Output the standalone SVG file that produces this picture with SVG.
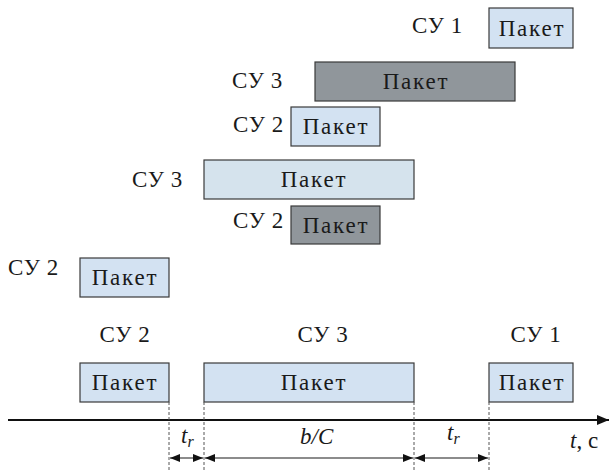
<svg xmlns="http://www.w3.org/2000/svg" width="609" height="474" viewBox="0 0 609 474">
<style>
text{font-family:"Liberation Serif",serif;font-size:23px;fill:#1a1a1a}
.pk{text-anchor:middle;letter-spacing:1.8px}
.su{letter-spacing:0.6px}
.light{fill:#d3e2f2;stroke:#3a3a3a;stroke-width:1.2}
.pale{fill:#d5e3ed;stroke:#3a3a3a;stroke-width:1.2}
.dark{fill:#90969b;stroke:#3a3a3a;stroke-width:1.2}
.dash{stroke:#555;stroke-width:1;stroke-dasharray:3,2;fill:none}
.dim{stroke:#666;stroke-width:1.5;fill:none;marker-start:url(#ah);marker-end:url(#ah)}
.it{font-style:italic}
</style>
<defs>
<marker id="ah" viewBox="0 0 10 8" refX="10" refY="4" markerWidth="10" markerHeight="8" markerUnits="userSpaceOnUse" orient="auto-start-reverse">
<path d="M0,0 L10,4 L0,8 z" fill="#111"/>
</marker>
<marker id="axh" viewBox="0 0 12 10" refX="12" refY="5" markerWidth="12" markerHeight="10" markerUnits="userSpaceOnUse" orient="auto">
<path d="M0,0 L12,5 L0,10 z" fill="#111"/>
</marker>
</defs>
<g id="row1">
<text class="su" x="412" y="33">СУ 1</text>
<rect class="light" x="489" y="8" width="84" height="40"/>
<text class="pk" x="532" y="36">Пакет</text>
</g>
<g id="row2">
<text class="su" x="232" y="88">СУ 3</text>
<rect class="dark" x="315" y="62" width="200" height="39"/>
<text class="pk" x="416" y="89">Пакет</text>
</g>
<g id="row3">
<text class="su" x="233" y="132">СУ 2</text>
<rect class="light" x="291" y="107" width="89" height="39"/>
<text class="pk" x="336" y="134">Пакет</text>
</g>
<g id="row4">
<text class="su" x="132" y="187">СУ 3</text>
<rect class="pale" x="204" y="160" width="210" height="39"/>
<text class="pk" x="314" y="187">Пакет</text>
</g>
<g id="row5">
<text class="su" x="233" y="228">СУ 2</text>
<rect class="dark" x="291" y="206" width="89" height="38"/>
<text class="pk" x="336" y="233">Пакет</text>
</g>
<g id="row6">
<text class="su" x="8" y="275">СУ 2</text>
<rect class="light" x="80" y="258" width="89" height="39"/>
<text class="pk" x="125" y="285">Пакет</text>
</g>
<g id="bottom-su2">
<text class="pk su" x="125" y="342">СУ 2</text>
<rect class="light" x="80" y="363" width="89" height="39"/>
<text class="pk" x="125" y="390">Пакет</text>
</g>
<g id="bottom-su3">
<text class="pk su" x="323" y="342">СУ 3</text>
<rect class="light" x="204" y="363" width="210" height="39"/>
<text class="pk" x="314" y="390">Пакет</text>
</g>
<g id="bottom-su1">
<text class="pk su" x="536" y="342">СУ 1</text>
<rect class="light" x="489" y="363" width="84" height="39"/>
<text class="pk" x="532" y="390">Пакет</text>
</g>
<g id="connectors">
<line x1="8" y1="420" x2="609" y2="420" stroke="#111" stroke-width="2" marker-end="url(#axh)"/>
<line class="dash" x1="169" y1="402" x2="169" y2="470"/>
<line class="dash" x1="204" y1="402" x2="204" y2="470"/>
<line class="dash" x1="414" y1="402" x2="414" y2="470"/>
<line class="dash" x1="489" y1="402" x2="489" y2="470"/>
<line class="dim" x1="170" y1="458" x2="203" y2="458"/>
<line class="dim" x1="205" y1="458" x2="413" y2="458"/>
<line class="dim" x1="415" y1="458" x2="488" y2="458"/>
</g>
<g id="labels">
<text x="181" y="443" class="it">t<tspan font-size="16" dy="4">r</tspan></text>
<text x="300" y="444" class="it">b/C</text>
<text x="447" y="440" class="it">t<tspan font-size="16" dy="4">r</tspan></text>
<text x="570" y="448"><tspan class="it">t</tspan>, с</text>
</g>
</svg>
